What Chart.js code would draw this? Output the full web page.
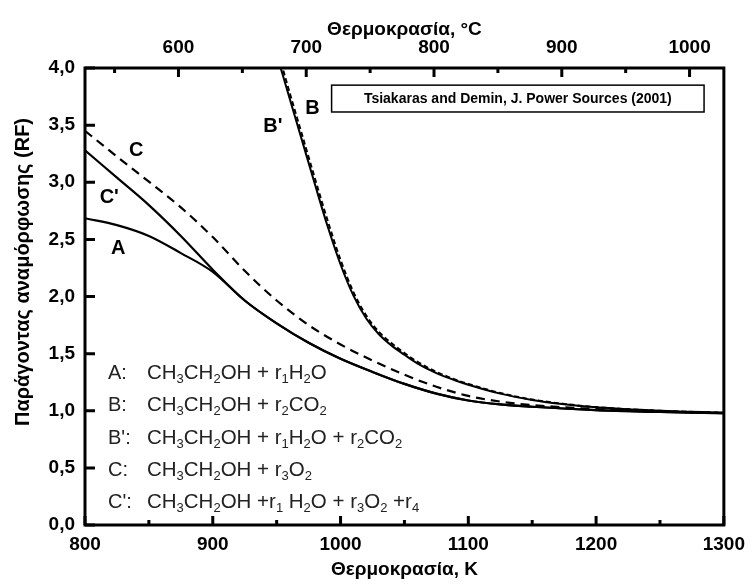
<!DOCTYPE html>
<html>
<head>
<meta charset="utf-8">
<script src="https://cdn.jsdelivr.net/npm/chart.js@4.4.1/dist/chart.umd.min.js"></script>
<style>
    html, body { margin: 0; padding: 0; background: #fff; }
    canvas { display: block; }
</style>
</head>
<body>
<canvas id="rf-chart" width="753" height="585"></canvas>
<script>
// temperatures (K) for curves A, C, C'
const tempK = [800, 825, 850, 875, 900, 925, 950, 975, 1000, 1025, 1050, 1075, 1100, 1125, 1150, 1200, 1250, 1300];
const rfA   = [2.685, 2.625, 2.53, 2.38, 2.215, 1.965, 1.765, 1.595, 1.455, 1.34, 1.235, 1.15, 1.09, 1.055, 1.035, 1.005, 0.99, 0.978];
const rfC1  = [3.28, 3.04, 2.80, 2.53, 2.235, 1.965, 1.765, 1.595, 1.455, 1.34, 1.235, 1.15, 1.09, 1.055, 1.035, 1.005, 0.99, 0.978];
const rfC   = [3.45, 3.225, 3.005, 2.78, 2.52, 2.225, 1.965, 1.75, 1.58, 1.44, 1.315, 1.21, 1.13, 1.08, 1.05, 1.015, 0.995, 0.98];

// temperatures (K) for curves B, B'
const tempKB = [950, 960, 970, 980, 990, 1000, 1010, 1020, 1030, 1040, 1050, 1060, 1075, 1090, 1100, 1125, 1150, 1175, 1200, 1250, 1300];
const rfB1   = [4.12, 3.74, 3.36, 2.98, 2.61, 2.28, 2.01, 1.81, 1.67, 1.57, 1.49, 1.415, 1.33, 1.265, 1.228, 1.15, 1.095, 1.057, 1.03, 1.0, 0.983];
const rfB    = [4.18, 3.79, 3.41, 3.03, 2.66, 2.32, 2.04, 1.835, 1.69, 1.59, 1.505, 1.43, 1.34, 1.272, 1.235, 1.155, 1.098, 1.06, 1.032, 1.0, 0.983];

// axis ticks
const kelvinTicks = [800, 900, 1000, 1100, 1200, 1300];
const kelvinMinor = [850, 950, 1050, 1150, 1250];
const celsiusTicks = [600, 700, 800, 900, 1000];
const celsiusMinor = [550, 650, 750, 850, 950];
const rfTicks = [0, 0.5, 1, 1.5, 2, 2.5, 3, 3.5, 4];

// curve labels: [text, K, RF]
const curveLabels = [
    ['C', 840, 3.28],
    ["C'", 819, 2.87],
    ['A', 826, 2.42],
    ["B'", 947, 3.49],
    ['B', 978, 3.65]
];

// legend lines inside the plot (underscore = subscript for the next char)
const legendKeys = ['A:', 'B:', "B':", 'C:', "C':"];
const legendFormulas = [
    'CH_3CH_2OH + r_1H_2O',
    'CH_3CH_2OH + r_2CO_2',
    'CH_3CH_2OH + r_1H_2O + r_2CO_2',
    'CH_3CH_2OH + r_3O_2',
    'CH_3CH_2OH +r_1 H_2O + r_3O_2 +r_4'
];
const legendRF = [1.33, 1.05, 0.76, 0.48, 0.20];

const citation = 'Tsiakaras and Demin, J. Power Sources (2001)';

const FONT = "'Liberation Sans', Arial, sans-serif";
const K0 = 273.15;

function pairs(xs, ys) {
    return xs.map((x, i) => ({ x: x, y: ys[i] }));
}

function drawFormula(ctx, str, x, y, size) {
    let cx = x;
    for (let i = 0; i < str.length; i++) {
        let ch = str[i];
        if (ch === '_') {
            i++;
            ctx.font = `${Math.round(size * 0.65)}px ${FONT}`;
            ctx.fillText(str[i], cx, y + size * 0.32);
            cx += ctx.measureText(str[i]).width;
        } else {
            ctx.font = `${size}px ${FONT}`;
            ctx.fillText(ch, cx, y);
            cx += ctx.measureText(ch).width;
        }
    }
}

const decorPlugin = {
    id: 'decor',
    afterDatasetsDraw(chart) {
        const { ctx, chartArea: a, scales } = chart;
        const x = scales.x, y = scales.y, xt = scales.xTop;
        ctx.save();
        ctx.strokeStyle = '#000';
        ctx.fillStyle = '#000';

        // frame
        ctx.lineWidth = 3;
        ctx.strokeRect(a.left, a.top, a.right - a.left, a.bottom - a.top);

        // inward tick marks
        ctx.beginPath();
        kelvinTicks.forEach(v => { const p = x.getPixelForValue(v); ctx.moveTo(p, a.bottom); ctx.lineTo(p, a.bottom - 9); });
        kelvinMinor.forEach(v => { const p = x.getPixelForValue(v); ctx.moveTo(p, a.bottom); ctx.lineTo(p, a.bottom - 5); });
        celsiusTicks.forEach(v => { const p = xt.getPixelForValue(v); ctx.moveTo(p, a.top); ctx.lineTo(p, a.top + 9); });
        celsiusMinor.forEach(v => { const p = xt.getPixelForValue(v); ctx.moveTo(p, a.top); ctx.lineTo(p, a.top + 5); });
        rfTicks.forEach(v => { const p = y.getPixelForValue(v); ctx.moveTo(a.left, p); ctx.lineTo(a.left + 10, p); });
        ctx.stroke();

        // curve labels
        ctx.textAlign = 'center';
        ctx.textBaseline = 'middle';
        ctx.font = `bold 20px ${FONT}`;
        curveLabels.forEach(l => {
            ctx.fillText(l[0], x.getPixelForValue(l[1]), y.getPixelForValue(l[2]));
        });

        // legend text
        ctx.fillStyle = '#222';
        ctx.textAlign = 'left';
        legendKeys.forEach((k, i) => {
            const py = y.getPixelForValue(legendRF[i]);
            ctx.font = `20px ${FONT}`;
            ctx.fillText(k, x.getPixelForValue(818), py);
            drawFormula(ctx, legendFormulas[i], x.getPixelForValue(848.5), py, 20.5);
        });

        // citation box
        const bx1 = x.getPixelForValue(993), bx2 = x.getPixelForValue(1284.5);
        const by1 = y.getPixelForValue(3.85), by2 = y.getPixelForValue(3.615);
        ctx.fillStyle = '#fff';
        ctx.fillRect(bx1, by1, bx2 - bx1, by2 - by1);
        ctx.lineWidth = 1.5;
        ctx.strokeRect(bx1, by1, bx2 - bx1, by2 - by1);
        ctx.fillStyle = '#000';
        ctx.font = `bold 14px ${FONT}`;
        ctx.textAlign = 'center';
        ctx.fillText(citation, (bx1 + bx2) / 2, (by1 + by2) / 2 + 1);

        // y axis title
        ctx.save();
        ctx.translate(23, 272);
        ctx.rotate(-Math.PI / 2);
        ctx.font = `bold 20px ${FONT}`;
        ctx.fillText('Παράγοντας αναμόρφωσης (RF)', 0, 0);
        ctx.restore();

        ctx.restore();
    }
};

const tickFont = { family: FONT, size: 19, weight: 'bold' };

new Chart(document.getElementById('rf-chart'), {
    type: 'line',
    data: {
        datasets: [
            { label: 'A', data: pairs(tempK, rfA), borderColor: '#000', borderWidth: 2.2 },
            { label: "C'", data: pairs(tempK, rfC1), borderColor: '#000', borderWidth: 2.2 },
            { label: 'C', data: pairs(tempK, rfC), borderColor: '#000', borderWidth: 2.2, borderDash: [9, 6] },
            { label: "B'", data: pairs(tempKB, rfB1), borderColor: '#000', borderWidth: 2 },
            { label: 'B', data: pairs(tempKB, rfB), borderColor: '#000', borderWidth: 2, borderDash: [5, 3] }
        ]
    },
    options: {
        responsive: false,
        animation: false,
        layout: { padding: { right: 25 } },
        elements: {
            point: { radius: 0 },
            line: { cubicInterpolationMode: 'monotone', fill: false }
        },
        plugins: { legend: { display: false }, tooltip: { enabled: false } },
        scales: {
            x: {
                type: 'linear', position: 'bottom', min: 800, max: 1300,
                grid: { display: false, drawTicks: false }, border: { display: false },
                afterBuildTicks: s => { s.ticks = kelvinTicks.map(v => ({ value: v })); },
                afterFit: s => { s.height = 60; },
                ticks: { color: '#000', font: tickFont, padding: 8, maxRotation: 0, callback: v => String(v) },
                title: { display: true, text: 'Θερμοκρασία, K', color: '#000', font: tickFont, padding: { top: 4, bottom: 4 } }
            },
            xTop: {
                type: 'linear', position: 'top', min: 800 - K0, max: 1300 - K0,
                grid: { display: false, drawTicks: false }, border: { display: false },
                afterBuildTicks: s => { s.ticks = celsiusTicks.map(v => ({ value: v })); },
                afterFit: s => { s.height = 68; },
                ticks: { color: '#000', font: tickFont, padding: 9, maxRotation: 0, callback: v => String(v) },
                title: { display: true, text: 'Θερμοκρασία, °C', color: '#000', font: tickFont, padding: { top: 18, bottom: 4 } }
            },
            y: {
                type: 'linear', position: 'left', min: 0, max: 4,
                grid: { display: false, drawTicks: false }, border: { display: false },
                afterBuildTicks: s => { s.ticks = rfTicks.map(v => ({ value: v })); },
                afterFit: s => { s.width = 85; },
                ticks: { color: '#000', font: tickFont, padding: 10, callback: v => v.toFixed(1).replace('.', ',') }
            }
        }
    },
    plugins: [decorPlugin]
});
</script>
</body>
</html>
